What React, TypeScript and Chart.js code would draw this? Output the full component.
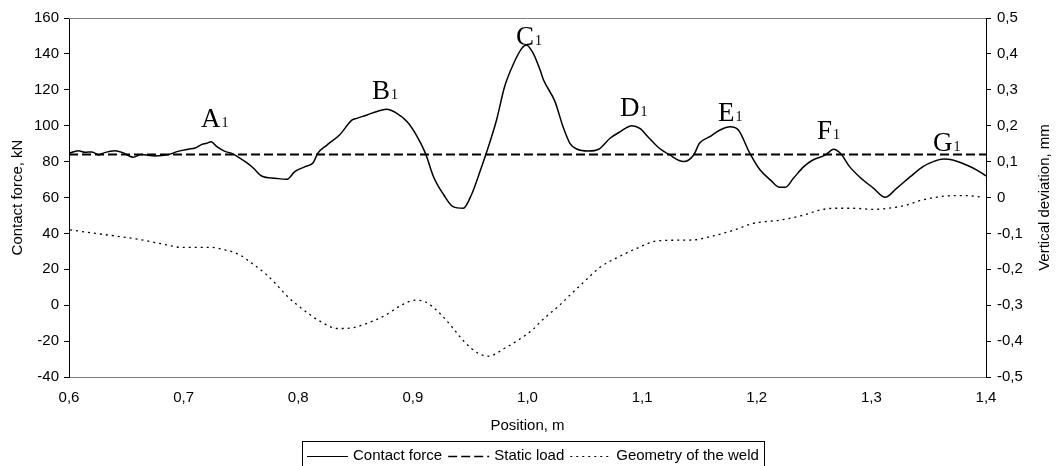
import React, { useEffect, useRef } from 'react';
import { Chart, registerables } from 'chart.js';

Chart.register(...registerables);

const FONT = '"Liberation Sans", Arial, sans-serif';
const SERIF = '"Liberation Serif", "Times New Roman", serif';

// Contact force (kN) vs position (m)
const forcePos = [
  0.600, 0.608, 0.614, 0.620, 0.626, 0.631, 0.640, 0.647, 0.656, 0.663,
  0.675, 0.687, 0.695, 0.704, 0.710, 0.716, 0.720, 0.724, 0.729, 0.736,
  0.742, 0.748, 0.755, 0.761, 0.768, 0.780, 0.790, 0.797, 0.806, 0.813,
  0.817, 0.825, 0.836, 0.847, 0.851, 0.860, 0.868, 0.877, 0.886, 0.895,
  0.903, 0.911, 0.918, 0.927, 0.935, 0.944, 0.951, 0.959, 0.964, 0.973,
  0.980, 0.988, 0.995, 0.999, 1.005, 1.011, 1.014, 1.024, 1.031, 1.037,
  1.043, 1.053, 1.062, 1.072, 1.081, 1.091, 1.098, 1.105, 1.114, 1.124,
  1.136, 1.145, 1.150, 1.159, 1.168, 1.177, 1.184, 1.194, 1.203, 1.212,
  1.220, 1.225, 1.232, 1.241, 1.249, 1.260, 1.267, 1.273, 1.281, 1.290,
  1.302, 1.312, 1.322, 1.334, 1.345, 1.354, 1.363, 1.371, 1.383, 1.392,
  1.400,
];
const forceKN = [
  84.6, 86.1, 85.2, 85.4, 83.7, 85.0, 86.1, 85.0, 82.4, 83.9,
  83.1, 83.9, 85.7, 86.9, 87.6, 89.6, 90.2, 91.1, 88.3, 85.7,
  84.6, 82.4, 79.4, 76.3, 72.0, 70.7, 70.1, 74.4, 77.2, 79.4,
  84.6, 89.2, 94.8, 103.2, 104.1, 106.0, 107.8, 109.1, 106.9, 102.2,
  94.8, 84.6, 71.6, 61.4, 54.9, 54.0, 61.4, 75.3, 84.6, 103.2,
  121.7, 134.8, 143.1, 145.0, 140.3, 131.0, 125.5, 113.4, 99.4, 90.2,
  87.0, 85.9, 86.9, 93.0, 96.7, 100.0, 98.5, 93.9, 88.0, 83.7,
  80.0, 83.7, 90.2, 93.9, 97.6, 99.4, 97.6, 84.6, 75.3, 69.7,
  65.7, 65.7, 70.7, 77.2, 80.9, 83.7, 86.9, 84.6, 77.2, 71.3,
  65.1, 60.1, 65.1, 71.6, 77.2, 80.0, 81.4, 80.9, 78.1, 75.3,
  72.0,
];

// Static load (kN)
const staticPos = [0.6, 1.4];
const staticKN = [84, 84];

// Geometry of the weld (mm, right axis)
const weldPos = [
  0.601, 0.623, 0.640, 0.660, 0.684, 0.698, 0.7245, 0.736, 0.748, 0.759,
  0.771, 0.780, 0.791, 0.803, 0.817, 0.835, 0.847, 0.858, 0.876, 0.890,
  0.902, 0.911, 0.922, 0.934, 0.945, 0.957, 0.966, 0.980, 0.992, 1.005,
  1.011, 1.028, 1.037, 1.049, 1.063, 1.081, 1.095, 1.113, 1.130, 1.145,
  1.162, 1.180, 1.197, 1.220, 1.241, 1.255, 1.267, 1.284, 1.302, 1.319,
  1.331, 1.342, 1.357, 1.371, 1.383, 1.396,
];
const weldMM = [
  -0.090, -0.100, -0.107, -0.116, -0.131, -0.139, -0.139, -0.146, -0.158, -0.182,
  -0.211, -0.239, -0.277, -0.309, -0.341, -0.365, -0.363, -0.353, -0.328, -0.300,
  -0.286, -0.291, -0.318, -0.360, -0.402, -0.434, -0.442, -0.420, -0.397, -0.367,
  -0.347, -0.300, -0.272, -0.236, -0.195, -0.163, -0.142, -0.121, -0.119, -0.118,
  -0.107, -0.091, -0.072, -0.063, -0.049, -0.035, -0.030, -0.030, -0.033, -0.028,
  -0.021, -0.009, 0.001, 0.005, 0.005, 0.001,
];

// Peak annotations (letter, subscript, position m, force kN at text baseline)
const annLetters = ['A', 'B', 'C', 'D', 'E', 'F', 'G'];
const annSub = '1';
const annPos = [0.7152, 0.8643, 0.9900, 1.0807, 1.1662, 1.2526, 1.3538];
const annKN = [99.3, 114.9, 145.0, 105.4, 102.6, 92.6, 85.9];

const seriesLabels = ['Contact force', 'Static load', 'Geometry of the weld'];
const xTitle = 'Position, m';
const yTitle = 'Contact force, kN';
const y2Title = 'Vertical deviation, mm';

const zip = (xs: number[], ys: number[]) => xs.map((x, i) => ({ x, y: ys[i] }));
const fmt1 = (v: number) => {
  if (Math.abs(v) < 1e-9) return '0';
  return v.toFixed(1).replace('.', ',');
};

const dashes: number[][] = [[], [9, 4], [2, 4]];
const widths = [1.5, 2, 1.3];

const decor = {
  id: 'decor',
  beforeDatasetsDraw(chart: any) {
    const { ctx, chartArea } = chart;
    ctx.save();
    ctx.strokeStyle = '#808080';
    ctx.lineWidth = 1;
    ctx.beginPath();
    ctx.moveTo(chartArea.left, Math.round(chartArea.top) + 0.5);
    ctx.lineTo(chartArea.right, Math.round(chartArea.top) + 0.5);
    ctx.stroke();
    ctx.restore();
  },
  afterDraw(chart: any) {
    const { ctx, chartArea } = chart;
    const xs = chart.scales.x;
    const ys = chart.scales.y;
    const midY = (chartArea.top + chartArea.bottom) / 2;
    const midX = (chartArea.left + chartArea.right) / 2;
    ctx.save();
    ctx.fillStyle = '#000';
    ctx.font = `15px ${FONT}`;
    ctx.textAlign = 'center';
    ctx.textBaseline = 'middle';
    // left title
    ctx.save();
    ctx.translate(18, midY);
    ctx.rotate(-Math.PI / 2);
    ctx.fillText(yTitle, 0, 0);
    ctx.restore();
    // right title
    ctx.save();
    ctx.translate(1045, midY);
    ctx.rotate(-Math.PI / 2);
    ctx.fillText(y2Title, 0, 0);
    ctx.restore();
    // x title
    ctx.fillText(xTitle, midX, 426);

    // annotations
    ctx.textAlign = 'left';
    ctx.textBaseline = 'alphabetic';
    annLetters.forEach((L, i) => {
      const px = xs.getPixelForValue(annPos[i]);
      const py = ys.getPixelForValue(annKN[i]);
      ctx.font = `27px ${SERIF}`;
      ctx.fillText(L, px, py);
      const w = ctx.measureText(L).width;
      ctx.font = `14px ${SERIF}`;
      ctx.fillText(annSub, px + w + 1, py);
    });

    // legend
    ctx.font = `15px ${FONT}`;
    const lineLen = 41, pad = 5, gapLT = 5, gapTL = 6;
    const tw = seriesLabels.map((s) => ctx.measureText(s).width);
    const total = pad * 2 + tw.reduce((a, b) => a + b + lineLen + gapLT, 0) + gapTL * (seriesLabels.length - 1);
    const center = 533;
    let x = Math.round(center - total / 2);
    const boxTop = 441;
    const ly = 456;
    ctx.strokeStyle = '#000';
    ctx.lineWidth = 1;
    ctx.strokeRect(x + 0.5, boxTop + 0.5, Math.round(total), 30);
    x += pad;
    ctx.textBaseline = 'middle';
    seriesLabels.forEach((s, i) => {
      ctx.save();
      ctx.setLineDash(dashes[i]);
      ctx.lineWidth = i === 0 ? 1 : i === 1 ? 1.5 : 1.2;
      ctx.beginPath();
      ctx.moveTo(x, ly + 0.5);
      ctx.lineTo(x + lineLen, ly + 0.5);
      ctx.stroke();
      ctx.restore();
      x += lineLen + gapLT;
      ctx.fillText(s, x, ly);
      x += tw[i] + gapTL;
    });
    ctx.restore();
  },
};

export default function App() {
  const ref = useRef<HTMLCanvasElement>(null);
  useEffect(() => {
    const canvas = ref.current;
    if (!canvas) return;
    const tickFont = { family: FONT, size: 15 };
    const chart = new Chart(canvas, {
      type: 'line',
      data: {
        datasets: [
          {
            label: seriesLabels[0],
            data: zip(forcePos, forceKN),
            borderColor: '#000',
            borderWidth: widths[0],
            borderDash: dashes[0],
            yAxisID: 'y',
            cubicInterpolationMode: 'monotone',
            pointRadius: 0,
            fill: false,
          },
          {
            label: seriesLabels[1],
            data: zip(staticPos, staticKN),
            borderColor: '#000',
            borderWidth: widths[1],
            borderDash: dashes[1],
            yAxisID: 'y',
            pointRadius: 0,
            fill: false,
          },
          {
            label: seriesLabels[2],
            data: zip(weldPos, weldMM),
            borderColor: '#000',
            borderWidth: widths[2],
            borderDash: dashes[2],
            yAxisID: 'y2',
            cubicInterpolationMode: 'monotone',
            pointRadius: 0,
            fill: false,
          },
        ],
      } as any,
      options: {
        animation: false,
        responsive: false,
        layout: { padding: { top: 18, left: 0, right: 0, bottom: 0 } },
        plugins: { legend: { display: false }, tooltip: { enabled: false } },
        scales: {
          x: {
            type: 'linear',
            position: 'bottom',
            min: 0.6,
            max: 1.4,
            ticks: {
              stepSize: 0.1,
              color: '#000',
              font: tickFont,
              padding: 12,
              maxRotation: 0,
              autoSkip: false,
              callback: (v: any) => fmt1(Number(v)),
            },
            grid: { display: false, drawTicks: false },
            border: { display: true, color: '#808080', width: 1 },
            afterFit: (s: any) => {
              s.height = 89;
            },
          },
          y: {
            type: 'linear',
            position: 'left',
            min: -40,
            max: 160,
            ticks: {
              stepSize: 20,
              color: '#000',
              font: tickFont,
              padding: 5,
              callback: (v: any) => String(v),
            },
            grid: { drawOnChartArea: false, drawTicks: true, tickLength: 5, color: '#000' },
            border: { display: true, color: '#000', width: 1 },
            afterFit: (s: any) => {
              s.width = 69;
            },
          },
          y2: {
            type: 'linear',
            position: 'right',
            min: -0.5,
            max: 0.5,
            ticks: {
              stepSize: 0.1,
              color: '#000',
              font: tickFont,
              padding: 6,
              callback: (v: any) => fmt1(Number(v)),
            },
            grid: { drawOnChartArea: false, drawTicks: true, tickLength: 5, color: '#000' },
            border: { display: true, color: '#000', width: 1 },
            afterFit: (s: any) => {
              s.width = 70;
            },
          },
        },
      } as any,
      plugins: [decor],
    });
    return () => chart.destroy();
  }, []);
  return (
    <div style={{ position: 'absolute', left: 0, top: 0, width: 1056, height: 466, background: '#fff' }}>
      <canvas ref={ref} width={1056} height={466} />
    </div>
  );
}
